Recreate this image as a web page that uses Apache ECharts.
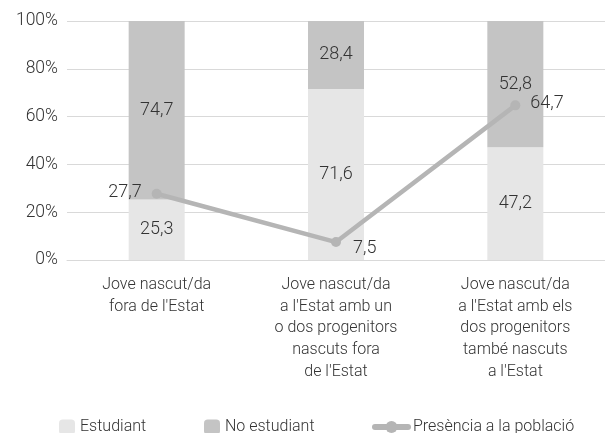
<!DOCTYPE html>
<html>
<head>
<meta charset="utf-8">
<script src="https://cdn.jsdelivr.net/npm/echarts@6/dist/echarts.min.js"></script>
<style>
html,body{margin:0;padding:0;background:#fff;}
#main{width:605px;height:433px;}
</style>
</head>
<body>
<div id="main"></div>
<script>
var categories = [
  "Jove nascut/da\nfora de l'Estat",
  "Jove nascut/da\na l'Estat amb un\no dos progenitors\nnascuts fora\nde l'Estat",
  "Jove nascut/da\na l'Estat amb els\ndos progenitors\ntambé nascuts\na l'Estat"
];
var estudiant = [25.3, 71.6, 47.2];
var noEstudiant = [74.7, 28.4, 52.8];
var presencia = [27.7, 7.5, 64.7];
var yTicks = [0, 20, 40, 60, 80, 100];

var FONT = 'Roboto';
var TXT = '#333333';

var lineLabelCfg = [
  {position: 'left', offset: [0, -1]},
  {position: 'right', offset: [2, 6]},
  {position: 'right', offset: [0, -2]}
];

function fmt(p) { return String(p.value).replace('.', ','); }

var chart = echarts.init(document.getElementById('main'), null, {renderer: 'canvas'});
chart.setOption({
  animation: false,
  textStyle: {fontFamily: FONT, fontWeight: 300, color: TXT},
  grid: {left: 67, right: -4.5, top: 21, bottom: 173, containLabel: false},
  legend: [
    {data: ['Estudiant'], left: 54, top: 414, itemWidth: 16, itemHeight: 15, itemGap: 10,
     textStyle: {fontFamily: FONT, fontWeight: 300, fontSize: 16, color: TXT}},
    {data: ['No estudiant'], left: 199, top: 414, itemWidth: 16, itemHeight: 15,
     textStyle: {fontFamily: FONT, fontWeight: 300, fontSize: 16, color: TXT}},
    {data: ['Presència a la població'], left: 367, top: 414, itemWidth: 33, itemHeight: 15,
     lineStyle: {width: 6, cap: 'round'},
     textStyle: {fontFamily: FONT, fontWeight: 300, fontSize: 16, color: TXT}}
  ],
  xAxis: {
    type: 'category',
    data: categories,
    axisLine: {show: true, lineStyle: {color: '#d9d9d9', width: 1}},
    axisTick: {show: false},
    axisLabel: {fontFamily: FONT, fontWeight: 300, fontSize: 16, color: TXT, lineHeight: 21.7, margin: 14, interval: 0}
  },
  yAxis: {
    type: 'value', min: 0, max: 100, interval: 20,
    axisLine: {show: false}, axisTick: {show: false},
    splitLine: {lineStyle: {color: '#d9d9d9', width: 1}},
    axisLabel: {fontFamily: FONT, fontWeight: 300, fontSize: 17.5, color: TXT, margin: 9,
      formatter: function (v) { return v + '%'; }}
  },
  series: [
    {
      name: 'Estudiant', type: 'bar', stack: 'total', barWidth: 56,
      itemStyle: {color: '#e6e6e6'},
      label: {show: true, position: 'inside', fontFamily: FONT, fontWeight: 300, fontSize: 18, color: TXT, formatter: fmt},
      data: estudiant
    },
    {
      name: 'No estudiant', type: 'bar', stack: 'total', barWidth: 56,
      itemStyle: {color: '#c4c4c4'},
      label: {show: true, position: 'inside', fontFamily: FONT, fontWeight: 300, fontSize: 18, color: TXT, formatter: fmt},
      data: noEstudiant
    },
    {
      name: 'Presència a la població', type: 'line', z: 5,
      symbol: 'circle', symbolSize: 10,
      lineStyle: {color: '#b5b5b5', width: 4.5},
      itemStyle: {color: '#b5b5b5'},
      data: presencia.map(function (v, i) {
        return {value: v, label: {show: true, position: lineLabelCfg[i].position, offset: lineLabelCfg[i].offset, distance: 10}};
      }),
      label: {show: true, fontFamily: FONT, fontWeight: 300, fontSize: 18, color: TXT, formatter: fmt}
    }
  ]
});
</script>
</body>
</html>
